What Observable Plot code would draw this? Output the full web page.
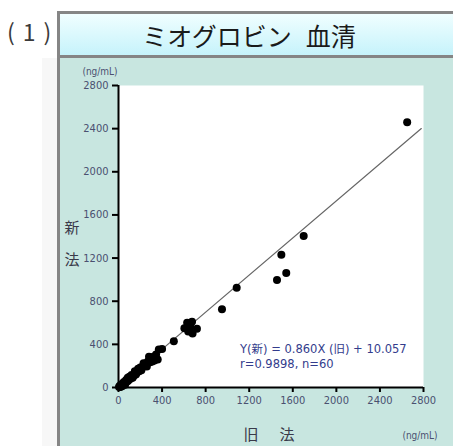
<!DOCTYPE html>
<html>
<head>
<meta charset="utf-8">
<script src="https://cdn.jsdelivr.net/npm/d3@7"></script>
<script src="https://cdn.jsdelivr.net/npm/@observablehq/plot@0.6"></script>
<style>
  html, body { margin: 0; padding: 0; background: white; }
  #wrap { position: relative; width: 453px; height: 446px; overflow: hidden; }
  .abs { position: absolute; white-space: nowrap; line-height: 1; }
  .c { transform: translate(-50%, -50%); }
  .narrow { font-family: "Liberation Sans Narrow", "DejaVu Sans Condensed", "Liberation Sans", sans-serif; font-stretch: condensed; }
  .jp { font-family: "Noto Sans CJK JP", sans-serif; }
  #plot { position: absolute; left: 0; top: 0; }
</style>
</head>
<body>
<div id="wrap">
  <div class="abs" style="left:42px;top:58px;width:15px;height:388px;background:#f7f7f7;"></div>
  <div class="abs" style="left:57px;top:56px;width:400px;height:400px;background:#c8e6e0;border-left:3px solid #858585;"></div>
  <div class="abs" style="left:57px;top:11px;width:410px;height:41px;border:3px solid #858585;background:linear-gradient(#f0feff,#c6f3fb);"></div>
  <div class="abs c jp" style="left:249px;top:35px;font-size:25px;color:#1a1a1a;">ミオグロビン<span style="margin-left:0.55em;">血清</span></div>
  <div class="abs jp" style="left:7px;top:20px;font-size:23px;color:#3a3a3a;letter-spacing:8px;">(1)</div>
  <div id="plot"></div>
  <div class="abs c narrow" style="left:100px;top:72px;font-size:10px;color:#4a5070;">(ng/mL)</div>
  <div class="abs c jp" style="left:72px;top:226px;font-size:15px;color:#3a3a4a;">新</div>
  <div class="abs c jp" style="left:72px;top:258px;font-size:15px;color:#3a3a4a;">法</div>
  <div class="abs c jp" style="left:251px;top:433px;font-size:15px;color:#3a3a4a;">旧</div>
  <div class="abs c jp" style="left:287px;top:433px;font-size:15px;color:#3a3a4a;">法</div>
  <div class="abs c narrow" style="left:420px;top:436px;font-size:10px;color:#4a5070;">(ng/mL)</div>
  <div class="abs narrow" style="left:240px;top:343px;font-size:12.8px;color:#333c8c;">Y(<span class="jp" style="font-size:11.5px;">新</span>) = 0.860X (<span class="jp" style="font-size:11.5px;">旧</span>) + 10.057</div>
  <div class="abs narrow" style="left:240px;top:358px;font-size:12.8px;color:#333c8c;">r=0.9898, n=60</div>
</div>
<script>
// 旧法 (old method) values, ng/mL
const oldMethod = [
  2650, 1700, 1495, 1540, 1455, 1085, 950,
  630, 675, 660, 605, 720, 680, 640, 650,
  508, 400, 370,
  345, 330, 360, 320, 300, 290, 310, 280, 270, 250, 260, 240, 230, 220, 200, 210,
  190, 180, 170, 160, 150, 140, 130, 120, 110, 100, 90, 85, 80, 70, 60, 60, 50, 45,
  40, 35, 30, 25, 20, 15, 10, 5
];
// 新法 (new method) values, ng/mL
const newMethod = [
  2460, 1405, 1230, 1062, 997, 925, 725,
  600, 610, 560, 550, 545, 500, 520, 580,
  428, 357, 352,
  305, 250, 260, 285, 265, 235, 240, 285, 240, 215, 195, 220, 225, 190, 185, 160,
  150, 175, 140, 120, 150, 110, 90, 115, 80, 100, 65, 90, 55, 70, 45, 25, 50, 25,
  40, 15, 30, 10, 20, 5, 15, 5
];
const axisTicks = [0, 400, 800, 1200, 1600, 2000, 2400, 2800];
const slope = 0.860;
const intercept = 10.057;
const fitRange = [0, 2780];

const points = oldMethod.map((x, i) => ({x, y: newMethod[i]}));
const fitLine = fitRange.map(x => ({x, y: slope * x + intercept}));

const chart = Plot.plot({
  width: 453,
  height: 446,
  marginLeft: 118,
  marginRight: 30,
  marginTop: 85,
  marginBottom: 59,
  style: {
    background: "transparent",
    fontFamily: "'Liberation Sans Narrow', 'DejaVu Sans Condensed', sans-serif",
    fontStretch: "condensed",
    fontSize: "11px"
  },
  x: {domain: [0, 2800], label: null},
  y: {domain: [0, 2800], label: null},
  marks: [
    Plot.frame({fill: "white", stroke: null}),
    Plot.line(fitLine, {x: "x", y: "y", stroke: "#666", strokeWidth: 1.2}),
    Plot.dot(points, {x: "x", y: "y", r: 4, fill: "black", stroke: null}),
    Plot.axisX({ticks: axisTicks, tickFormat: "d", tickSize: 5, tickPadding: 4, stroke: "black", strokeWidth: 2, fill: "#4a5070", label: null}),
    Plot.axisY({ticks: axisTicks, tickFormat: "d", tickSize: 6, tickPadding: 4, stroke: "black", strokeWidth: 2, fill: "#4a5070", label: null}),
    Plot.ruleX([0], {y1: 0, y2: 2800, stroke: "black", strokeWidth: 2}),
    Plot.ruleY([0], {x1: 0, x2: 2800, stroke: "black", strokeWidth: 2})
  ]
});
document.getElementById("plot").appendChild(chart);
</script>
</body>
</html>
